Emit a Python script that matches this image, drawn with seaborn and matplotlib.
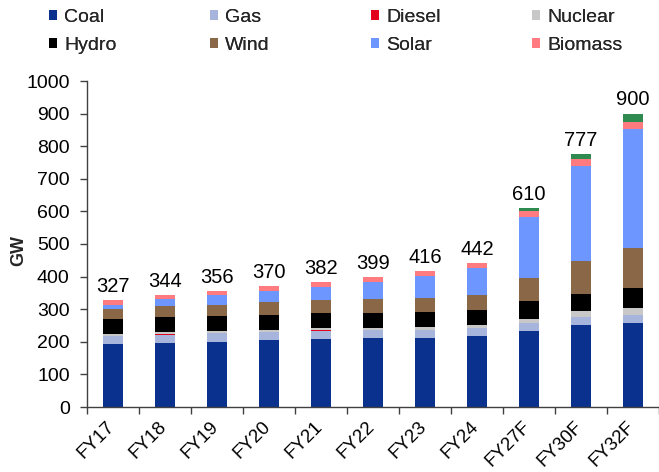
import numpy as np
import pandas as pd
import matplotlib
matplotlib.use("Agg")
import matplotlib.pyplot as plt
import matplotlib.transforms as mtransforms
import seaborn as sns
from matplotlib.patches import Patch
from matplotlib.ticker import FixedLocator

# Installed capacity by source (GW)
years = ["FY17", "FY18", "FY19", "FY20", "FY21", "FY22", "FY23", "FY24", "FY27F", "FY30F", "FY32F"]
coal = [192.2, 197.2, 200.7, 205.1, 209.3, 210.7, 211.9, 217.6, 232.0, 252.0, 258.0]
gas = [25.3, 24.9, 24.9, 25.0, 25.0, 24.9, 24.8, 25.0, 25.0, 23.0, 23.0]
diesel = [0.8, 0.8, 0.6, 0.5, 0.5, 0.5, 0.6, 0.6, 0.5, 0.5, 0.5]
nuclear = [6.8, 6.8, 6.8, 6.8, 6.8, 6.8, 6.8, 8.2, 13.0, 18.0, 21.0]
hydro = [44.5, 45.3, 45.4, 45.7, 46.2, 46.7, 46.9, 46.9, 54.0, 54.0, 63.0]
wind = [32.3, 34.0, 35.6, 37.7, 39.2, 40.4, 42.6, 45.9, 72.0, 100.0, 122.0]
solar = [12.3, 21.7, 28.2, 34.6, 40.1, 54.0, 66.8, 81.8, 187.0, 293.0, 366.0]
biomass = [12.7, 13.0, 13.8, 14.7, 15.1, 15.0, 15.7, 16.0, 19.0, 20.0, 20.0]
other = [0.0, 0.0, 0.0, 0.0, 0.0, 0.0, 0.0, 0.0, 7.5, 16.5, 26.5]
totals = [327, 344, 356, 370, 382, 399, 416, 442, 610, 777, 900]

series_names = ["Coal", "Gas", "Diesel", "Nuclear", "Hydro", "Wind", "Solar", "Biomass", "Other"]
series_values = [coal, gas, diesel, nuclear, hydro, wind, solar, biomass, other]
series_colors = ["#0A318E", "#A7B4DB", "#E3001B", "#C8C8C8", "#000000",
                 "#8A6746", "#6E96FF", "#FF7B7F", "#2F8A50"]

sns.set_theme(style="white")
plt.rcParams["font.family"] = ["Liberation Sans", "DejaVu Sans"]

W, H = 659, 472
fig = plt.figure(figsize=(W / 100, H / 100), dpi=100)
ax = fig.add_axes([87 / W, 65 / H, 572 / W, 326 / H])

# Stack by drawing cumulative heights, tallest first, each layer over the one before
cum = np.cumsum(np.array(series_values), axis=0)
for name, color, heights in reversed(list(zip(series_names, series_colors, cum))):
    df = pd.DataFrame({"year": years, "gw": heights})
    sns.barplot(data=df, x="year", y="gw", color=color, width=0.4,
                saturation=1, linewidth=0, ax=ax, errorbar=None)

# Total labels above each stack
for i, t in enumerate(totals):
    ax.annotate(f"{t}", xy=(i, cum[-1][i]), xytext=(0, 3), textcoords="offset points",
                ha="center", va="bottom", fontsize=14.5, color="black")

ax.set_ylim(0, 1000)
ax.set_xlim(-0.5, len(years) - 0.5)
ax.set_yticks(np.arange(0, 1001, 100))
ax.set_xlabel("")
ax.set_ylabel("GW", fontsize=13, fontweight="bold")
ax.yaxis.set_label_coords(-0.104, 0.48)

axis_color = "#404040"
for side in ["top", "right"]:
    ax.spines[side].set_visible(False)
for side in ["left", "bottom"]:
    ax.spines[side].set_color(axis_color)
    ax.spines[side].set_linewidth(1.0)

ax.tick_params(axis="y", which="major", left=True, length=5, width=1,
               color=axis_color, labelsize=14, pad=7.5, labelcolor="black")
ax.tick_params(axis="x", which="major", bottom=False, length=0, labelsize=13.5, pad=8,
               labelcolor="black")
ax.xaxis.set_minor_locator(FixedLocator(np.arange(-0.5, len(years), 1.0)))
ax.tick_params(axis="x", which="minor", bottom=True, length=5, width=1, color=axis_color)
shift = mtransforms.ScaledTranslation(-5 / 72, 0, fig.dpi_scale_trans)
for lbl in ax.get_xticklabels():
    lbl.set_rotation(45)
    lbl.set_ha("right")
    lbl.set_rotation_mode("anchor")
    lbl.set_transform(lbl.get_transform() + shift)

# Legend: two rows of four, one evenly spaced column per legend
color_map = dict(zip(series_names, series_colors))
legend_columns = [["Coal", "Hydro"], ["Gas", "Wind"], ["Diesel", "Solar"], ["Nuclear", "Biomass"]]
col_x = [49, 210, 371, 532]
for x0, names in zip(col_x, legend_columns):
    handles = [Patch(facecolor=color_map[n], edgecolor="none", label=n) for n in names]
    leg = fig.legend(handles=handles, loc="upper left", bbox_to_anchor=(x0 / W, 1 - 9 / H),
                     frameon=False, fontsize=14, handlelength=0.42, handleheight=0.42,
                     handletextpad=0.36, labelspacing=0.55, borderpad=0, borderaxespad=0)
    fig.add_artist(leg)

fig.savefig("out.png", dpi=100)
